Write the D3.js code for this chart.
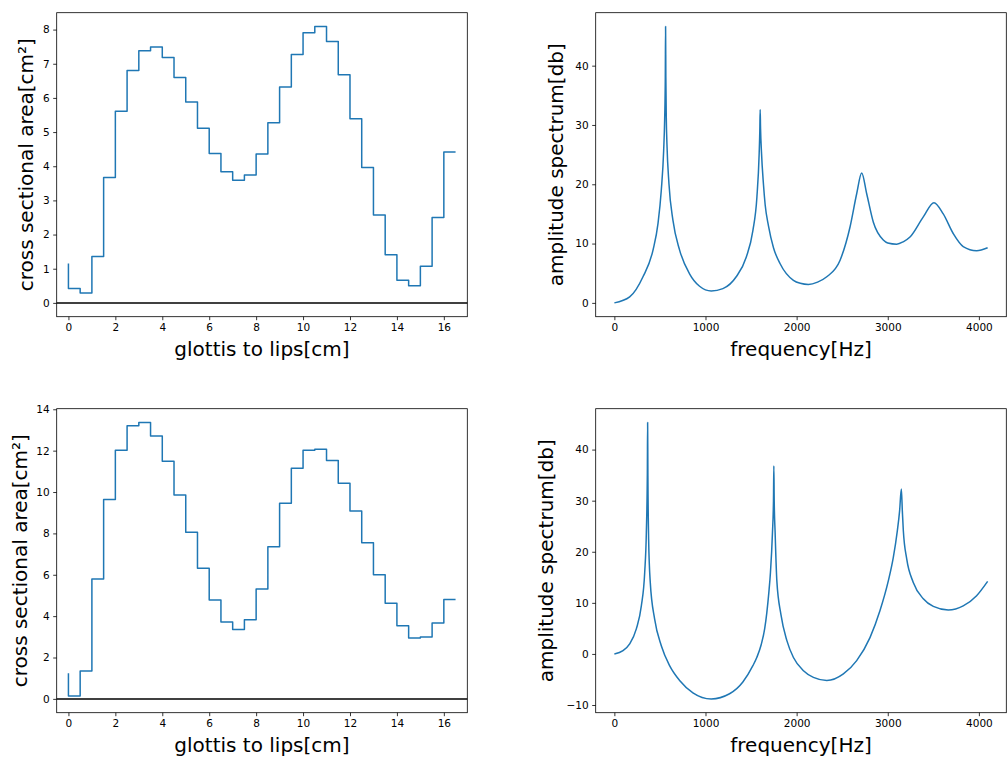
<!DOCTYPE html>
<html>
<head>
<meta charset="utf-8">
<script src="https://cdn.jsdelivr.net/npm/d3@7"></script>
<style>
  body { margin: 0; background: #fff; }
  svg { display: block; font-family: "DejaVu Sans", sans-serif; }
</style>
</head>
<body>
<div id="chart"></div>
<script>
// positions along the tract (cm), one per section
const positionsCm = [0, 0.5, 1, 1.5, 2, 2.5, 3, 3.5, 4, 4.5, 5, 5.5, 6, 6.5, 7, 7.5, 8,
    8.5, 9, 9.5, 10, 10.5, 11, 11.5, 12, 12.5, 13, 13.5, 14, 14.5, 15, 15.5, 16, 16.5];

const areaTop = [1.15, 0.42, 0.29, 1.36, 3.67, 5.61, 6.80, 7.38, 7.49, 7.18, 6.60, 5.88, 5.11,
    4.37, 3.84, 3.59, 3.74, 4.36, 5.27, 6.32, 7.27, 7.91, 8.09, 7.65, 6.68, 5.39, 3.96,
    2.57, 1.41, 0.66, 0.50, 1.07, 2.50, 4.42];

const areaBottom = [1.24, 0.14, 1.35, 5.79, 9.64, 12.02, 13.20, 13.36, 12.71, 11.49, 9.86, 8.06,
    6.31, 4.78, 3.72, 3.35, 3.83, 5.31, 7.35, 9.46, 11.15, 12.02, 12.07, 11.52, 10.43, 9.08,
    7.55, 6.00, 4.62, 3.54, 2.94, 2.99, 3.67, 4.80];

// spectra
const freqTop = [0, 168, 314, 424, 479, 515, 541, 552, 559, 562, 565, 570, 577, 599, 643, 716, 825,
    935, 1063, 1191, 1337, 1447, 1520, 1564, 1589, 1596, 1600, 1604, 1614, 1636, 1655, 1691,
    1746, 1819, 1965, 2040, 2129, 2230, 2331, 2477, 2586, 2659, 2714, 2769, 2842, 2951, 3000,
    3098, 3170, 3244, 3390, 3507, 3609, 3718, 3828, 3975, 4096];
const dbTop = [0, 1.0, 4.4, 8.9, 13.4, 19.0, 25.7, 31.0, 38.0, 46.6, 38.0, 31.0, 26.8, 20.1, 13.9,
    8.9, 4.9, 2.8, 2.0, 2.4, 4.4, 7.7, 12.2, 17.8, 25.2, 29.0, 32.6, 29.5, 25.5, 20.0, 16.5,
    13.0, 9.3, 6.6, 3.8, 3.3, 3.1, 3.5, 4.4, 7.2, 12.8, 18.4, 21.9, 18.4, 13.6, 10.6, 10.1,
    9.9, 10.3, 11.1, 14.5, 16.9, 15.0, 11.7, 9.5, 8.8, 9.3];

const freqBottom = [0, 95, 168, 241, 296, 333, 351, 362, 365, 368, 376, 394, 442, 515, 606, 716,
    862, 1063, 1264, 1410, 1520, 1565, 1611, 1650, 1673, 1695, 1713, 1735, 1746, 1750, 1754,
    1764, 1783, 1827, 1893, 1965, 2075, 2184, 2331, 2513, 2659, 2805, 2915, 3006, 3061, 3105,
    3130, 3149, 3160, 3171, 3208, 3280, 3390, 3500, 3664, 3828, 3975, 4096];
const dbBottom = [0, 0.65, 1.95, 4.9, 9.4, 16.0, 23.8, 35.5, 45.3, 35.0, 22.5, 14.0, 6.8, 1.6,
    -2.3, -5.2, -7.6, -8.8, -7.8, -5.5, -2.3, -0.6, 1.8, 5.0, 8.1, 12.0, 16.0, 23.8, 30.0,
    36.8, 30.0, 23.8, 14.3, 7.8, 2.6, -0.7, -3.3, -4.6, -5.2, -3.9, -1.3, 3.2, 8.5, 14.3,
    18.9, 24.1, 28.0, 32.3, 28.0, 24.1, 18.6, 14.0, 10.8, 9.3, 8.6, 9.4, 11.4, 14.2];

const ticksCm = [0, 2, 4, 6, 8, 10, 12, 14, 16];
const ticksAreaTop = [0, 1, 2, 3, 4, 5, 6, 7, 8];
const ticksAreaBottom = [0, 2, 4, 6, 8, 10, 12, 14];
const ticksFreq = [0, 1000, 2000, 3000, 4000];
const ticksDbTop = [0, 10, 20, 30, 40];
const ticksDbBottom = [-10, 0, 10, 20, 30, 40];

const width = 1007, height = 762;
const lineColor = "#1f77b4";

const svg = d3.select("#chart")
    .append("svg")
    .attr("width", width)
    .attr("height", height);

// matplotlib style 5% padding
function padded(values) {
    const lo = d3.min(values), hi = d3.max(values);
    const m = (hi - lo) * 0.05;
    return [lo - m, hi + m];
}

function drawPanel(opt) {
    const g = svg.append("g").attr("transform", `translate(${opt.left},${opt.top})`);
    const x = d3.scaleLinear().domain(opt.xDomain).range([0, opt.w]);
    const y = d3.scaleLinear().domain(opt.yDomain).range([opt.h, 0]);

    const fmt = d3.format("");
    const xAxis = g.append("g")
        .attr("transform", `translate(0,${opt.h})`)
        .call(d3.axisBottom(x).tickValues(opt.xTicks).tickSize(3.5).tickPadding(3.5).tickFormat(fmt));
    const yAxis = g.append("g")
        .call(d3.axisLeft(y).tickValues(opt.yTicks).tickSize(3.5).tickPadding(3.5).tickFormat(fmt));
    [xAxis, yAxis].forEach(a => {
        a.select(".domain").remove();
        a.selectAll("line").attr("stroke", "#000").attr("stroke-width", 0.8);
        a.selectAll("text").attr("fill", "#000").style("font-size", "10.5px")
            .style("font-family", "DejaVu Sans");
    });

    if (opt.zeroLine) {
        g.append("line")
            .attr("x1", 0).attr("x2", opt.w)
            .attr("y1", y(0)).attr("y2", y(0))
            .attr("stroke", "#000").attr("stroke-width", 1.5);
    }

    g.append("path")
        .datum(opt.xs.map((v, i) => [v, opt.ys[i]]))
        .attr("fill", "none")
        .attr("stroke", lineColor)
        .attr("stroke-width", 1.5)
        .attr("stroke-linejoin", "round")
        .attr("d", d3.line().x(d => x(d[0])).y(d => y(d[1])).curve(opt.curve));

    g.append("rect")
        .attr("width", opt.w).attr("height", opt.h)
        .attr("fill", "none").attr("stroke", "#000").attr("stroke-width", 0.8);

    g.append("text")
        .attr("x", opt.w / 2).attr("y", opt.h + 39)
        .attr("text-anchor", "middle")
        .style("font-size", "20px")
        .text(opt.xLabel);

    g.append("text")
        .attr("transform", `translate(${opt.yLabelX},${opt.h / 2}) rotate(-90)`)
        .attr("text-anchor", "middle")
        .style("font-size", "20px")
        .text(opt.yLabel);
}

const pw = 410.6, ph = 304;
const leftL = 56.7, leftR = 595.7, topT = 12.7, topB = 408.7;

drawPanel({
    left: leftL, top: topT, w: pw, h: ph,
    xs: positionsCm, ys: areaTop, curve: d3.curveStepBefore,
    xDomain: [-0.5, 17], yDomain: padded(areaTop.concat([0])),
    xTicks: ticksCm, yTicks: ticksAreaTop, zeroLine: true,
    xLabel: "glottis to lips[cm]", yLabel: "cross sectional area[cm²]", yLabelX: -24
});

drawPanel({
    left: leftR, top: topT, w: pw, h: ph,
    xs: freqTop, ys: dbTop, curve: d3.curveMonotoneX,
    xDomain: padded(freqTop), yDomain: padded(dbTop),
    xTicks: ticksFreq, yTicks: ticksDbTop, zeroLine: false,
    xLabel: "frequency[Hz]", yLabel: "amplitude spectrum[db]", yLabelX: -33
});

drawPanel({
    left: leftL, top: topB, w: pw, h: ph,
    xs: positionsCm, ys: areaBottom, curve: d3.curveStepBefore,
    xDomain: [-0.5, 17], yDomain: padded(areaBottom.concat([0])),
    xTicks: ticksCm, yTicks: ticksAreaBottom, zeroLine: true,
    xLabel: "glottis to lips[cm]", yLabel: "cross sectional area[cm²]", yLabelX: -30
});

drawPanel({
    left: leftR, top: topB, w: pw, h: ph,
    xs: freqBottom, ys: dbBottom, curve: d3.curveMonotoneX,
    xDomain: padded(freqBottom), yDomain: padded(dbBottom),
    xTicks: ticksFreq, yTicks: ticksDbBottom, zeroLine: false,
    xLabel: "frequency[Hz]", yLabel: "amplitude spectrum[db]", yLabelX: -43
});
</script>
</body>
</html>
